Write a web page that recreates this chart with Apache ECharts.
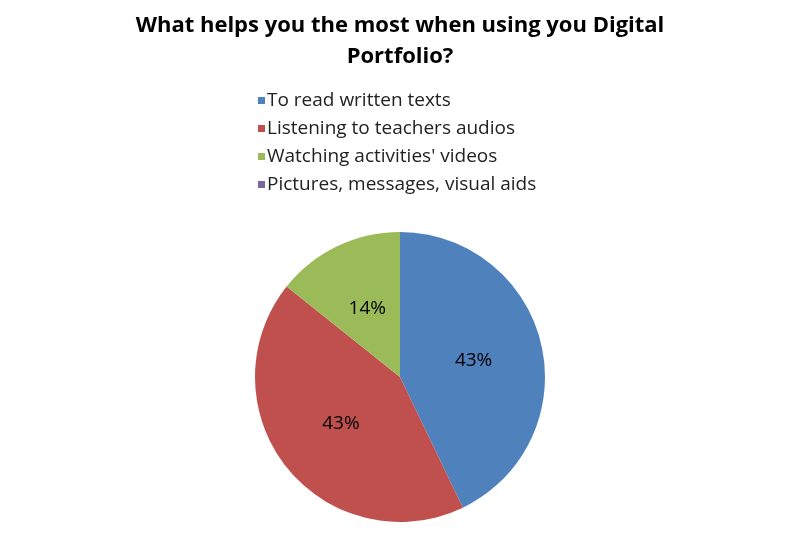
<!DOCTYPE html>
<html>
<head>
<meta charset="utf-8">
<script src="https://cdn.jsdelivr.net/npm/echarts@6/dist/echarts.min.js"></script>
<style>
  html, body { margin: 0; padding: 0; background: #fff; }
  #chart { width: 800px; height: 560px; }
</style>
</head>
<body>
<div id="chart"></div>
<script>
// answers and how many picked each
const categories = [
  "To read written texts",
  "Listening to teachers audios",
  "Watching activities' videos",
  "Pictures, messages, visual aids"
];
const counts = [3, 3, 1, 0];
const colors = ["#4F81BD", "#C0504D", "#9BBB59", "#8064A2"];

const chart = echarts.init(document.getElementById("chart"));
chart.setOption({
  animation: false,
  color: colors,
  textStyle: { fontFamily: "Open Sans" },
  title: {
    text: "What helps you the most when using you Digital\nPortfolio?",
    left: "center",
    top: 5,
    textStyle: {
      fontFamily: "Open Sans",
      fontSize: 22,
      fontWeight: "bold",
      color: "#000",
      lineHeight: 31
    }
  },
  legend: {
    orient: "vertical",
    left: 253,
    top: 84,
    icon: "rect",
    itemWidth: 7,
    itemHeight: 7,
    itemGap: 5,
    data: categories,
    textStyle: { fontSize: 19, color: "#222", padding: [0, 0, 0, -3], lineHeight: 23 }
  },
  series: [
    {
      type: "pie",
      center: [400, 377],
      radius: [0, 145],
      startAngle: 90,
      clockwise: true,
      avoidLabelOverlap: false,
      label: {
        show: true,
        position: "inside",
        fontSize: 19,
        color: "#000",
        formatter: function (p) {
          return p.value > 0 ? Math.round(p.percent) + "%" : "";
        }
      },
      labelLine: { show: false },
      itemStyle: { borderWidth: 0 },
      emphasis: { disabled: true },
      data: categories.map(function (name, i) {
        return { name: name, value: counts[i] };
      })
    }
  ]
});
</script>
</body>
</html>
